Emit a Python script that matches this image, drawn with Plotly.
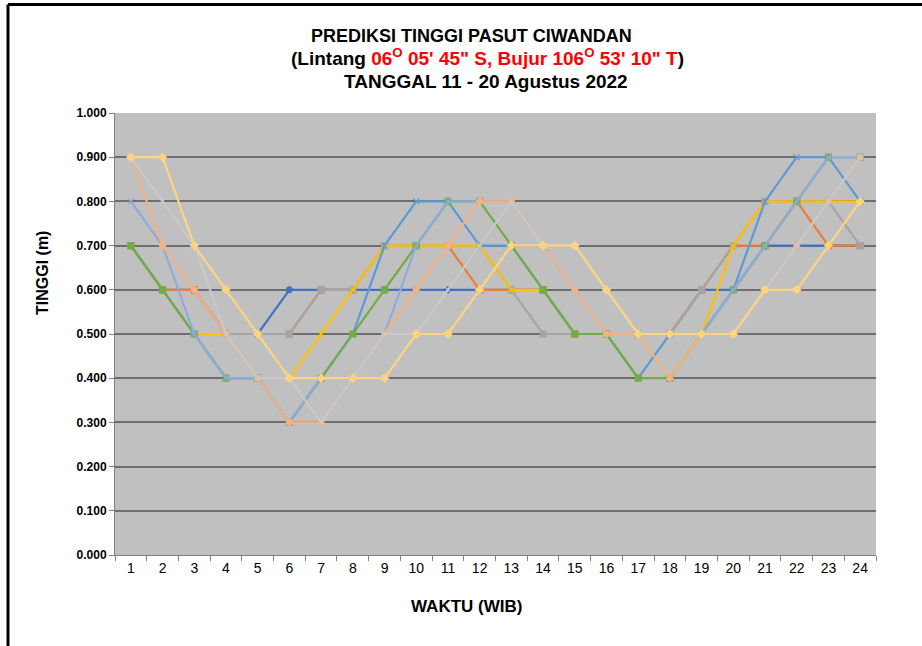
import plotly.graph_objects as go

hours = [str(h) for h in range(1, 25)]
days = ["11 Agustus", "12 Agustus", "13 Agustus", "14 Agustus", "15 Agustus",
        "16 Agustus", "17 Agustus", "18 Agustus", "19 Agustus", "20 Agustus"]

aug11 = [0.7,0.6,0.6,0.5,0.5,0.6,0.6,0.6,0.6,0.6,0.6,0.6,0.6,0.6,0.5,0.5,0.5,0.5,0.6,0.6,0.7,0.7,0.7,0.7]
aug12 = [0.7,0.6,0.6,0.5,0.5,0.5,0.6,0.6,0.7,0.7,0.7,0.6,0.6,0.6,0.5,0.5,0.5,0.5,0.6,0.7,0.7,0.8,0.7,0.7]
aug13 = [0.7,0.6,0.5,0.5,0.5,0.5,0.6,0.6,0.7,0.7,0.7,0.7,0.6,0.5,0.5,0.5,0.5,0.5,0.6,0.7,0.8,0.8,0.8,0.7]
aug14 = [0.7,0.6,0.5,0.5,0.4,0.4,0.5,0.6,0.7,0.7,0.7,0.7,0.6,0.6,0.5,0.5,0.4,0.4,0.5,0.7,0.8,0.8,0.8,0.8]
aug15 = [0.7,0.6,0.5,0.4,0.4,0.3,0.4,0.5,0.7,0.8,0.8,0.7,0.7,0.6,0.5,0.5,0.4,0.5,0.5,0.6,0.8,0.9,0.9,0.8]
aug16 = [0.7,0.6,0.5,0.4,0.4,0.3,0.4,0.5,0.6,0.7,0.8,0.8,0.7,0.6,0.5,0.5,0.4,0.4,0.5,0.6,0.7,0.8,0.9,0.9]
aug17 = [0.8,0.7,0.5,0.4,0.4,0.3,0.4,0.4,0.5,0.7,0.8,0.8,0.8,0.7,0.6,0.5,0.5,0.5,0.5,0.6,0.7,0.8,0.9,0.9]
aug18 = [0.9,0.7,0.6,0.5,0.4,0.3,0.3,0.4,0.5,0.6,0.7,0.8,0.8,0.7,0.6,0.5,0.5,0.4,0.5,0.5,0.6,0.7,0.8,0.9]
aug19 = [0.9,0.8,0.7,0.5,0.4,0.4,0.3,0.4,0.5,0.5,0.6,0.7,0.8,0.7,0.7,0.6,0.5,0.5,0.5,0.5,0.6,0.7,0.8,0.9]
aug20 = [0.9,0.9,0.7,0.6,0.5,0.4,0.4,0.4,0.4,0.5,0.5,0.6,0.7,0.7,0.7,0.6,0.5,0.5,0.5,0.5,0.6,0.6,0.7,0.8]

series = [aug11, aug12, aug13, aug14, aug15, aug16, aug17, aug18, aug19, aug20]
colors = ["#4472C4", "#ED7D31", "#A5A5A5", "#FFC000", "#5B9BD5",
          "#70AD47", "#8FAADC", "#F4B183", "#C9C9C9", "#FFD480"]
symbols = ["circle", "square", "square", "x-thin", "x-thin",
           "square", "x-thin", "circle", "x-thin", "diamond"]

fig = go.Figure()
for name, vals, col, sym in zip(days, series, colors, symbols):
    fig.add_trace(go.Scatter(
        x=hours, y=vals, name=name, mode="lines+markers",
        line=dict(color=col, width=2.2),
        marker=dict(symbol=sym, size=6, color=col, line=dict(color=col, width=1.2)),
    ))

FONT = "Liberation Sans, Arial, sans-serif"

def px_x(p):
    return (p - 115) / 761.0

def px_y(p):
    return (555 - p) / 442.0

annotations = [
    dict(text="<b>PREDIKSI TINGGI PASUT CIWANDAN</b>", x=px_x(471), y=px_y(36), font_size=18),
    dict(text="<b>(Lintang <span style='color:#FF0000'>06<sup>O</sup> 05' 45\" S, Bujur 106<sup>O</sup> 53' 10\" T</span>)</b>",
         x=px_x(487), y=px_y(57), font_size=19),
    dict(text="<b>TANGGAL 11 - 20 Agustus 2022</b>", x=px_x(486), y=px_y(81), font_size=19),
]
for a in annotations:
    size = a.pop("font_size")
    a.update(xref="paper", yref="paper", showarrow=False, xanchor="center", yanchor="middle",
             font=dict(family=FONT, size=size, color="black"))

annotations.append(dict(text="<b>WAKTU (WIB)</b>", x=px_x(466), y=px_y(606), xref="paper", yref="paper",
                        showarrow=False, xanchor="center", yanchor="middle",
                        font=dict(family=FONT, size=17, color="black")))
annotations.append(dict(text="<b>TINGGI (m)</b>", x=px_x(42), y=px_y(273), xref="paper", yref="paper",
                        showarrow=False, xanchor="center", yanchor="middle", textangle=-90,
                        font=dict(family=FONT, size=16, color="black")))

shapes = [
    dict(type="line", xref="paper", yref="paper", x0=px_x(8), x1=px_x(960), y0=px_y(4.5), y1=px_y(4.5),
         line=dict(color="black", width=3)),
    dict(type="line", xref="paper", yref="paper", x0=px_x(8), x1=px_x(8), y0=px_y(4.5), y1=px_y(700),
         line=dict(color="black", width=3)),
]

fig.update_layout(
    width=922, height=646,
    margin=dict(l=115, r=46, t=113, b=91),
    paper_bgcolor="white",
    plot_bgcolor="#C0C0C0",
    showlegend=False,
    font=dict(family=FONT, color="black"),
    annotations=annotations,
    shapes=shapes,
    xaxis=dict(
        type="category", tickson="boundaries", ticks="outside", ticklen=5,
        range=[-0.5, 23.5],
        tickcolor="#7F7F7F", showgrid=False, showline=True, linecolor="#7F7F7F", linewidth=1,
        tickfont=dict(family=FONT, size=14, color="black"), zeroline=False,
    ),
    yaxis=dict(
        range=[0, 1.0], dtick=0.1, tick0=0, tickformat=".3f",
        ticks="outside", ticklen=5, tickcolor="#7F7F7F",
        showgrid=True, gridcolor="#6E6E6E", gridwidth=1.5,
        showline=True, linecolor="#7F7F7F", linewidth=1, zeroline=False,
        tickfont=dict(family=FONT, size=12, color="black", weight="bold"),
    ),
)

fig.write_html("out.html", config={"displayModeBar": False},
               post_script="document.body.style.margin='0';document.body.style.overflow='hidden';")
